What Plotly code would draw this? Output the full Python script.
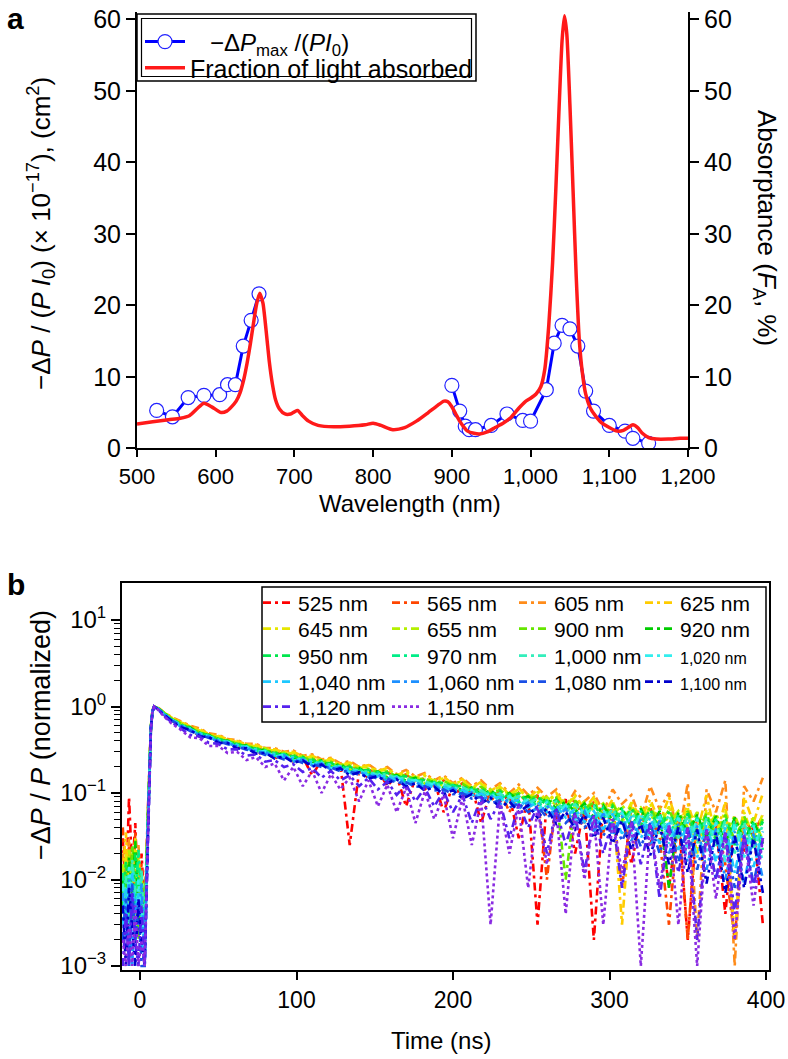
import plotly.graph_objects as go

W, H = 788, 1059
FONT = "Liberation Sans, Arial, Helvetica, sans-serif"

# ---------------- panel a data ----------------
abs_wl = [500, 520, 540, 555, 567, 577, 585, 595, 607, 614, 620, 626, 631, 636, 640, 644, 648, 652,
          656, 660, 664, 668, 672, 676, 681, 688, 695, 700, 704, 710, 718, 730, 750, 770, 790, 800,
          810, 825, 840, 855, 870, 882, 890, 895, 900, 905, 910, 915, 920, 928, 935, 945, 955, 965,
          975, 985, 993, 1000, 1007, 1013, 1018, 1023, 1028, 1032, 1036, 1040, 1043, 1046, 1050,
          1054, 1058, 1062, 1066, 1070, 1076, 1082, 1090, 1100, 1110, 1118, 1124, 1130, 1136, 1142,
          1150, 1160, 1175, 1190, 1200]
abs_pct = [3.4, 3.7, 4.0, 4.2, 4.6, 5.6, 6.3, 5.8, 5.0, 5.2, 5.8, 6.6, 7.8, 9.8, 12.0, 14.6, 17.5, 20.2,
           21.7, 20.3, 16.5, 12.2, 9.0, 6.8, 5.5, 4.8, 4.8, 5.1, 5.3, 4.6, 3.8, 3.2, 3.0, 3.1, 3.3, 3.5,
           3.2, 2.6, 2.9, 3.8, 5.0, 6.0, 6.6, 6.5, 5.8, 4.8, 3.8, 3.0, 2.4, 2.1, 2.0, 2.3, 2.9, 3.5,
           4.3, 5.6, 6.5, 7.0, 7.6, 8.6, 11.0, 17.0, 26.0, 36.0, 47.0, 57.0, 60.5, 58.0, 48.0,
           36.0, 24.0, 15.0, 10.4, 7.6, 5.6, 4.6, 3.6, 2.9, 2.4, 2.5, 2.9, 3.3, 2.9, 2.1,
           1.5, 1.3, 1.3, 1.4, 1.4]

# -dPmax/(P I0): visible band and near-IR band (measured separately, not joined)
ratio_wl_vis = [525, 545, 565, 585, 605, 615, 625, 635, 645, 655]
ratio_val_vis = [5.3, 4.4, 7.1, 7.4, 7.5, 8.9, 8.9, 14.3, 17.9, 21.6]
ratio_wl_nir = [900, 910, 917, 922, 930, 950, 970, 990, 1000, 1020, 1030, 1040, 1050, 1060, 1070, 1080,
                1100, 1120, 1130, 1150]
ratio_val_nir = [8.8, 5.2, 3.1, 2.6, 2.6, 3.2, 4.8, 3.9, 3.8, 8.2, 14.7, 17.2, 16.7, 14.3, 8.0, 5.2,
                 3.2, 2.4, 1.4, 0.7]

# ---------------- panel b data (values in units of 1e-3, normalized) ----------------
time_ns = [-11, -9, -7, -5, -3, -1, 1, 3, 5, 6, 7, 8, 9, 12, 15, 20,
           26, 32, 38, 44, 50, 56, 62, 68, 74, 80,
           86, 92, 98, 104, 110, 116, 122, 128, 134, 140,
           146, 152, 158, 164, 170, 176, 182, 188, 194, 200,
           206, 212, 218, 224, 230, 236, 242, 248, 254, 260,
           266, 272, 278, 284, 290, 296, 302, 308, 314, 320,
           326, 332, 338, 344, 350, 356, 362, 368, 374, 380,
           386, 392, 398]

dp_525 = [30, 6, 90, 12, 45, 3, 20, 4, 60, 250, 620, 900, 1000,
          930, 810, 690,
          600, 560, 450, 470, 380, 410, 330, 360, 280, 300,
          250, 290, 230, 260, 160, 240, 190, 215, 25, 180,
          150, 185, 120, 160, 70, 150, 110, 140, 60, 125,
          90, 120, 45, 105, 80, 95, 30, 90, 3, 85,
          50, 85, 20, 70, 2, 75, 40, 60, 15, 55,
          25, 60, 8, 55, 2, 50, 30, 45, 4, 55,
          20, 40, 3]
dp_565 = [40, 10, 25, 5, 35, 8, 15, 3, 50, 230, 600, 890, 1000,
          940, 840, 720,
          640, 540, 510, 440, 430, 380, 380, 330, 340, 300,
          300, 270, 280, 240, 250, 215, 230, 195, 210, 175,
          190, 160, 175, 145, 165, 130, 150, 120, 140, 105,
          130, 95, 120, 80, 110, 60, 100, 75, 95, 10,
          90, 60, 85, 45, 80, 35, 75, 8, 70, 40,
          70, 30, 3, 55, 2, 60, 25, 55, 15, 2,
          50, 35, 55]
dp_605 = [20, 8, 30, 4, 15, 25, 6, 3, 40, 210, 580, 880, 1000,
          960, 870, 760,
          680, 600, 560, 490, 470, 420, 410, 370, 370, 330,
          330, 300, 310, 270, 280, 245, 255, 220, 235, 200,
          215, 180, 200, 165, 185, 155, 170, 140, 160, 130,
          150, 120, 140, 110, 130, 100, 125, 95, 115, 90,
          110, 70, 105, 80, 100, 60, 110, 75, 95, 50,
          120, 65, 100, 30, 130, 2, 110, 60, 140, 1,
          120, 80, 150]
dp_625 = [12, 35, 6, 20, 3, 15, 9, 2, 45, 220, 590, 890, 1000,
          950, 860, 750,
          670, 590, 550, 480, 460, 420, 400, 365, 360, 325,
          320, 295, 300, 265, 270, 240, 250, 215, 225, 200,
          210, 180, 195, 160, 180, 150, 165, 135, 155, 125,
          145, 115, 135, 105, 125, 95, 115, 85, 110, 80,
          100, 70, 95, 65, 90, 55, 85, 3, 80, 50,
          85, 45, 90, 40, 75, 35, 95, 30, 80, 2,
          90, 45, 100]
dp_645 = [8, 20, 4, 12, 30, 5, 10, 2, 50, 230, 600, 890, 1000,
          945, 850, 740,
          660, 570, 530, 470, 450, 410, 390, 355, 350, 318,
          310, 285, 290, 258, 262, 235, 240, 210, 218, 196,
          200, 178, 188, 160, 172, 148, 158, 136, 148, 126,
          138, 115, 128, 105, 118, 96, 110, 88, 102, 80,
          95, 72, 90, 62, 85, 55, 80, 45, 78, 35,
          75, 40, 70, 30, 68, 20, 65, 35, 62, 25,
          60, 30, 58]
dp_655 = [15, 5, 22, 9, 4, 18, 7, 3, 55, 240, 610, 895, 1000,
          940, 850, 735,
          610, 585, 480, 480, 410, 410, 355, 365, 315, 330,
          280, 295, 250, 270, 225, 245, 205, 222, 185, 200,
          168, 182, 152, 168, 140, 155, 128, 142, 118, 130,
          108, 120, 100, 110, 92, 102, 85, 96, 78, 90,
          72, 84, 66, 80, 62, 76, 56, 72, 54, 68,
          48, 66, 45, 62, 40, 60, 36, 58, 33, 55,
          30, 52, 28]
dp_900 = [6, 14, 3, 25, 8, 2, 12, 3, 50, 235, 605, 890, 1000,
          940, 845, 725,
          640, 560, 510, 460, 432, 395, 378, 345, 335, 305,
          300, 275, 276, 250, 250, 228, 230, 205, 208, 188,
          190, 172, 178, 155, 162, 143, 148, 131, 138, 121,
          128, 110, 118, 100, 108, 92, 100, 84, 94, 76,
          88, 10, 82, 65, 78, 55, 74, 50, 70, 45,
          68, 42, 64, 38, 62, 35, 58, 30, 56, 28,
          54, 30, 50]
dp_920 = [10, 4, 18, 6, 28, 3, 9, 2, 48, 230, 600, 890, 1000,
          938, 842, 722,
          600, 575, 480, 470, 405, 405, 350, 356, 308, 318,
          272, 290, 245, 262, 222, 238, 200, 216, 180, 194,
          165, 178, 150, 162, 138, 150, 125, 138, 115, 126,
          106, 116, 96, 108, 88, 100, 82, 92, 74, 86,
          66, 80, 60, 76, 52, 72, 48, 68, 40, 66,
          38, 62, 8, 60, 34, 56, 30, 54, 26, 52,
          28, 48, 26]
dp_950 = [5, 16, 7, 3, 20, 10, 4, 2, 45, 225, 595, 888, 1000,
          935, 838, 718,
          630, 550, 500, 455, 424, 388, 370, 338, 328, 298,
          292, 268, 268, 244, 242, 222, 222, 199, 201, 183,
          183, 167, 171, 151, 156, 138, 142, 127, 132, 117,
          122, 106, 112, 96, 104, 88, 96, 80, 90, 72,
          84, 64, 78, 58, 74, 50, 70, 46, 66, 42,
          64, 38, 60, 34, 58, 30, 55, 28, 52, 25,
          50, 26, 47]
dp_970 = [12, 3, 9, 15, 5, 22, 6, 3, 44, 222, 592, 886, 1000,
          932, 835, 714,
          595, 565, 472, 465, 398, 400, 345, 350, 303, 312,
          268, 284, 240, 256, 218, 232, 196, 210, 176, 190,
          162, 174, 146, 158, 134, 146, 122, 134, 112, 124,
          102, 112, 94, 104, 86, 96, 78, 88, 70, 82,
          62, 76, 56, 72, 48, 68, 44, 64, 40, 62,
          36, 58, 32, 56, 28, 53, 26, 50, 22, 48,
          24, 45, 22]
dp_1000 = [4, 11, 2, 17, 7, 4, 13, 2, 42, 220, 590, 885, 1000,
           930, 832, 710,
           620, 540, 493, 448, 416, 382, 362, 332, 321, 292,
           285, 262, 261, 238, 235, 216, 215, 194, 195, 178,
           177, 162, 165, 147, 150, 134, 137, 123, 127, 113,
           117, 102, 107, 92, 99, 84, 92, 76, 86, 68,
           80, 60, 74, 54, 70, 46, 66, 42, 62, 38,
           60, 34, 56, 30, 54, 26, 51, 24, 48, 20,
           46, 22, 43]
dp_1020 = [9, 3, 14, 5, 2, 10, 4, 2, 40, 215, 585, 882, 1000,
           928, 828, 706,
           590, 555, 465, 458, 392, 394, 340, 344, 298, 306,
           262, 278, 236, 250, 213, 226, 192, 205, 172, 186,
           158, 170, 142, 155, 130, 142, 118, 130, 108, 120,
           98, 108, 88, 100, 80, 92, 72, 84, 64, 78,
           56, 72, 50, 68, 42, 64, 38, 60, 34, 58,
           30, 54, 26, 52, 22, 50, 20, 46, 16, 44,
           18, 42, 16]
dp_1040 = [3, 8, 1, 12, 4, 7, 2, 1, 38, 212, 582, 880, 1000,
           925, 825, 702,
           610, 530, 485, 440, 408, 374, 354, 324, 313, 284,
           277, 254, 253, 230, 227, 208, 207, 186, 187, 170,
           169, 154, 157, 139, 142, 126, 129, 115, 119, 105,
           109, 94, 99, 84, 91, 76, 84, 68, 78, 60,
           72, 52, 66, 46, 62, 38, 58, 34, 54, 30,
           52, 26, 48, 22, 46, 18, 43, 16, 40, 12,
           38, 14, 36]
dp_1060 = [7, 2, 10, 1, 6, 3, 9, 1, 36, 208, 578, 878, 1000,
           922, 820, 698,
           585, 548, 460, 452, 386, 388, 334, 338, 292, 300,
           256, 272, 230, 244, 208, 220, 186, 200, 166, 180,
           152, 164, 136, 150, 124, 136, 112, 124, 102, 114,
           92, 102, 82, 94, 74, 86, 66, 78, 58, 72,
           50, 66, 44, 62, 36, 58, 32, 54, 28, 50,
           24, 48, 20, 44, 16, 42, 13, 39, 10, 36,
           9, 34, 10]
dp_1080 = [2, 6, 1, 9, 2, 5, 1, 1, 34, 205, 575, 875, 1000,
           920, 815, 692,
           598, 520, 472, 432, 398, 366, 344, 316, 303, 276,
           268, 245, 244, 222, 218, 200, 198, 178, 178, 162,
           160, 146, 148, 131, 133, 118, 120, 107, 110, 97,
           100, 86, 90, 76, 82, 68, 76, 60, 70, 52,
           64, 45, 58, 40, 55, 32, 50, 28, 47, 24,
           45, 20, 42, 16, 40, 13, 37, 10, 34, 8,
           32, 9, 30]
dp_1100 = [5, 1, 8, 3, 1, 6, 2, 1, 32, 200, 570, 872, 1000,
           916, 810, 688,
           570, 540, 452, 445, 380, 380, 326, 330, 286, 292,
           250, 265, 224, 238, 202, 214, 180, 194, 160, 174,
           146, 158, 130, 144, 118, 130, 106, 118, 96, 108,
           86, 97, 76, 88, 68, 80, 60, 72, 52, 66,
           44, 61, 38, 56, 30, 52, 26, 48, 22, 44,
           19, 42, 15, 40, 12, 38, 9, 35, 7, 32,
           8, 30, 7]
dp_1120 = [1, 4, 1, 7, 2, 1, 5, 1, 30, 195, 565, 870, 1000,
           905, 790, 660,
           560, 470, 450, 380, 370, 320, 320, 270, 280, 230,
           240, 200, 215, 175, 195, 150, 180, 140, 160, 120,
           150, 110, 135, 95, 125, 80, 115, 70, 105, 60,
           95, 45, 90, 50, 80, 30, 75, 40, 70, 20,
           65, 25, 60, 12, 55, 20, 50, 8, 48, 15,
           45, 6, 42, 12, 40, 2, 38, 10, 35, 4,
           33, 8, 30]
dp_1150 = [2, 1, 3, 1, 5, 1, 2, 1, 28, 190, 560, 868, 1000,
           900, 780, 640,
           540, 440, 430, 350, 350, 290, 300, 240, 260, 200,
           220, 140, 200, 120, 180, 100, 165, 110, 150, 80,
           140, 70, 125, 60, 115, 45, 105, 50, 95, 30,
           88, 25, 82, 3, 75, 20, 70, 8, 66, 15,
           62, 4, 58, 10, 54, 3, 50, 12, 46, 1,
           44, 8, 42, 3, 40, 1, 38, 6, 35, 2,
           33, 5, 30]

trace_labels = ["525 nm", "565 nm", "605 nm", "625 nm", "645 nm", "655 nm", "900 nm", "920 nm",
                "950 nm", "970 nm", "1,000 nm", "1,020 nm", "1,040 nm", "1,060 nm", "1,080 nm",
                "1,100 nm", "1,120 nm", "1,150 nm"]
trace_colors = ["#ff0000", "#ff4500", "#ff8c1a", "#ffcc00", "#e6e600", "#b4f000", "#66e600", "#00cc00",
                "#00e64d", "#00ee88", "#33eebb", "#33eeee", "#1ec8ff", "#1e90ff", "#1a4fe6", "#0000cc",
                "#5522ee", "#8a2be2"]
trace_values = [dp_525, dp_565, dp_605, dp_625, dp_645, dp_655, dp_900, dp_920, dp_950, dp_970,
                dp_1000, dp_1020, dp_1040, dp_1060, dp_1080, dp_1100, dp_1120, dp_1150]


def px(x):
    return x / W


def py(y):
    return 1 - y / H


fig = go.Figure()

blue_line = dict(color="#0000ff", width=3)
blue_marker = dict(symbol="circle", size=14, color="white", line=dict(color="#2222ff", width=1.2))
fig.add_trace(go.Scatter(
    x=ratio_wl_vis, y=ratio_val_vis, mode="lines+markers",
    name="\u00a0\u00a0\u00a0\u2212\u0394<i>P</i><sub>max</sub> /(<i>PI</i><sub>0</sub>)",
    line=blue_line, marker=blue_marker, xaxis="x", yaxis="y", legend="legend"))
fig.add_trace(go.Scatter(
    x=ratio_wl_nir, y=ratio_val_nir, mode="lines+markers", showlegend=False,
    line=blue_line, marker=blue_marker, xaxis="x", yaxis="y", legend="legend"))
fig.add_trace(go.Scatter(
    x=abs_wl, y=abs_pct, mode="lines", name="Fraction of light absorbed",
    line=dict(color="#ff1a1a", width=3.5, shape="spline", smoothing=0.6),
    xaxis="x", yaxis="y2", legend="legend2"))

for i, (lab, col, vals) in enumerate(zip(trace_labels, trace_colors, trace_values)):
    dash = "3px,3px" if lab == "1,150 nm" else "8px,4px,3px,4px"
    name = lab
    if lab in ("1,020 nm", "1,100 nm"):
        name = '<span style="font-size:16px">%s</span>' % lab
    fig.add_trace(go.Scatter(
        x=time_ns, y=[v / 1000 for v in vals], mode="lines", name=name,
        line=dict(color=col, width=2.6, dash=dash),
        xaxis="x2", yaxis="y3", legend="legend%d" % (i + 3)))


def axis_style(size, ticklen=9):
    return dict(showline=True, linecolor="black", linewidth=2, ticks="outside", ticklen=ticklen,
                tickwidth=1.5, tickcolor="black", showgrid=False, zeroline=False,
                ticklabeloverflow="allow",
                tickfont=dict(family=FONT, size=size, color="black"))


# top panel geometry: value 0 at y=448.3 px, 7.15 px per unit
TOP_Y0 = 448.3
TOP_Y1 = TOP_Y0 - 61 * 7.15
# bottom panel geometry
BOT_TOP, BOT_BOTTOM = 583, 970

layout = dict(
    width=W, height=H,
    margin=dict(l=0, r=0, t=0, b=0, autoexpand=False),
    paper_bgcolor="white", plot_bgcolor="white",
    font=dict(family=FONT, color="black"),
    xaxis=dict(domain=[px(137), px(688)], anchor="y", range=[500, 1200],
               tickvals=list(range(500, 1201, 100)), tickformat=",", **axis_style(22, 7)),
    yaxis=dict(domain=[py(TOP_Y0), py(TOP_Y1)], anchor="x", range=[0, 61],
               tickvals=list(range(0, 61, 10)), **axis_style(25)),
    yaxis2=dict(domain=[py(TOP_Y0), py(TOP_Y1)], anchor="x", overlaying="y", side="right", range=[0, 61],
                tickvals=list(range(0, 61, 10)), **axis_style(25)),
    xaxis2=dict(domain=[px(122), px(769)], anchor="y3", range=[-11.5, 401.9], mirror=True,
                tickvals=list(range(0, 401, 100)), **axis_style(23, 8)),
    yaxis3=dict(domain=[py(BOT_BOTTOM), py(BOT_TOP)], anchor="x2", type="log", range=[-3.046, 1.428],
                mirror=True,
                tickvals=[1e-3, 1e-2, 1e-1, 1, 10],
                ticktext=["10<sup>\u22123</sup>", "10<sup>\u22122</sup>", "10<sup>\u22121</sup>",
                          "10<sup>0</sup>", "10<sup>1</sup>"],
                minor=dict(tickvals=[k * 10.0 ** e for e in range(-3, 1) for k in range(2, 10)],
                           ticks="outside", ticklen=6, tickwidth=1.2, tickcolor="black", showgrid=False),
                **axis_style(24)),
    showlegend=True,
)

legend_base = dict(bgcolor="rgba(0,0,0,0)", borderwidth=0, orientation="v", xanchor="left",
                   yanchor="middle", itemwidth=30, tracegroupgap=0, itemclick=False)

layout["legend"] = dict(legend_base, x=px(140), y=py(42), itemwidth=40,
                        font=dict(family=FONT, size=24, color="black"))
layout["legend2"] = dict(legend_base, x=px(140), y=py(68), itemwidth=40,
                         font=dict(family=FONT, size=25, color="black"))

col_x = [258, 387, 514, 640]
row_y = [603, 629, 656, 682, 707]
for i in range(len(trace_labels)):
    r, c = divmod(i, 4)
    layout["legend%d" % (i + 3)] = dict(legend_base, x=px(col_x[c]), y=py(row_y[r]),
                                         font=dict(family=FONT, size=21, color="black"))

shapes = [
    dict(type="rect", xref="paper", yref="paper", x0=px(137), x1=px(476), y0=py(81), y1=py(14),
         line=dict(color="black", width=1.5)),
    dict(type="rect", xref="paper", yref="paper", x0=px(141.5), x1=px(471.5), y0=py(76.5), y1=py(18.5),
         line=dict(color="black", width=1.2)),
    dict(type="rect", xref="paper", yref="paper", x0=px(262), x1=px(766), y0=py(722), y1=py(587),
         line=dict(color="black", width=1.5)),
]
layout["shapes"] = shapes

annotations = [
    dict(text="<b>a</b>", x=px(16), y=py(19), font=dict(family=FONT, size=30, color="black")),
    dict(text="<b>b</b>", x=px(16), y=py(584), font=dict(family=FONT, size=30, color="black")),
    dict(text="\u2212\u0394<i>P</i> / (<i>P I</i><sub>0</sub>) (\u00d7 10<sup>\u221217</sup>), (cm<sup>2</sup>)",
         x=px(41), y=py(234), textangle=-90, font=dict(family=FONT, size=26, color="black")),
    dict(text="Absorptance (<i>F</i><sub>A</sub>, %)", x=px(766), y=py(228), textangle=90,
         font=dict(family=FONT, size=26, color="black")),
    dict(text="Wavelength (nm)", x=px(410), y=py(503), font=dict(family=FONT, size=24, color="black")),
    dict(text="\u2212\u0394<i>P</i> / <i>P</i> (normalized)", x=px(41), y=py(735), textangle=-90,
         font=dict(family=FONT, size=27, color="black")),
    dict(text="Time (ns)", x=px(441), y=py(1040), font=dict(family=FONT, size=24, color="black")),
]
for a in annotations:
    a.update(xref="paper", yref="paper", showarrow=False, xanchor="center", yanchor="middle")
layout["annotations"] = annotations

fig.update_layout(**layout)
fig.write_html("out.html", config={"displayModeBar": False},
               post_script="document.body.style.margin='0';document.body.style.padding='0';")
